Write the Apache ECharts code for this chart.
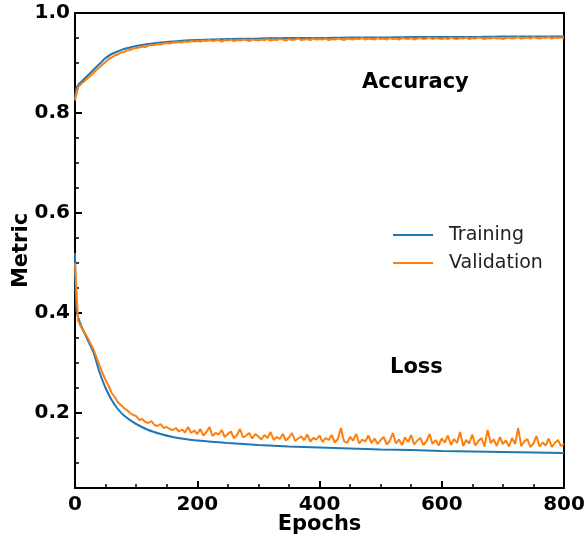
<!DOCTYPE html>
<html>
<head>
<meta charset="utf-8">
<script src="https://cdn.jsdelivr.net/npm/echarts@6/dist/echarts.min.js"></script>
<style>
  html, body { margin: 0; padding: 0; background: #fff; }
  #chart { width: 584px; height: 539px; }
</style>
</head>
<body>
<div id="chart"></div>
<script>
// training curves (smooth)
var trainEpochs = [0, 2, 5, 10, 20, 30, 40, 50, 60, 70, 80, 90, 100, 120, 140, 160, 180, 200,
  250, 300, 350, 400, 450, 500, 550, 600, 650, 700, 750, 800];
var trainAcc = [0.830, 0.848, 0.856, 0.862, 0.874, 0.886, 0.898, 0.910, 0.918, 0.923, 0.928, 0.931, 0.934,
  0.938, 0.941, 0.943, 0.945, 0.946, 0.948, 0.949, 0.950, 0.950, 0.951, 0.951, 0.952, 0.952, 0.952,
  0.953, 0.953, 0.953];
var trainLoss = [0.520, 0.410, 0.392, 0.375, 0.348, 0.322, 0.282, 0.250, 0.226, 0.208, 0.195, 0.186, 0.178,
  0.166, 0.158, 0.152, 0.148, 0.145, 0.140, 0.136, 0.133, 0.131, 0.129, 0.127, 0.126, 0.124, 0.123,
  0.122, 0.121, 0.120];

// validation curves, one value every 5 epochs
var valStep = 5;
var valAcc = [
  0.825, 0.852, 0.858, 0.863, 0.869, 0.874, 0.880, 0.886, 0.891, 0.897,
  0.902, 0.908, 0.911, 0.915, 0.917, 0.921, 0.922, 0.925, 0.926, 0.929,
  0.930, 0.931, 0.933, 0.932, 0.935, 0.936, 0.936, 0.938, 0.937, 0.939,
  0.940, 0.939, 0.941, 0.941, 0.942, 0.941, 0.943, 0.942, 0.944, 0.943, 0.944,
  0.943, 0.945, 0.944, 0.946, 0.944, 0.945, 0.946, 0.943, 0.946, 0.945, 0.947, 0.944, 0.946, 0.945, 0.947, 0.946, 0.944, 0.947, 0.946, 0.945,
  0.947, 0.946, 0.948, 0.945, 0.947, 0.946, 0.948, 0.947, 0.945, 0.948, 0.946, 0.947, 0.949, 0.946, 0.947, 0.948, 0.946, 0.949, 0.947, 0.948,
  0.947, 0.949, 0.946, 0.948, 0.947, 0.949, 0.948, 0.946, 0.949, 0.948, 0.947, 0.949, 0.948, 0.950, 0.947, 0.949, 0.948, 0.947, 0.950, 0.948,
  0.949, 0.947, 0.950, 0.948, 0.949, 0.947, 0.950, 0.949, 0.948, 0.950, 0.947, 0.949, 0.950, 0.948, 0.949, 0.951, 0.948, 0.950, 0.949, 0.948,
  0.950, 0.948, 0.951, 0.949, 0.948, 0.950, 0.949, 0.951, 0.948, 0.950, 0.949, 0.951, 0.950, 0.948, 0.950, 0.949, 0.951, 0.949, 0.950, 0.948,
  0.950, 0.951, 0.949, 0.950, 0.952, 0.949, 0.950, 0.951, 0.949, 0.952, 0.950, 0.949, 0.951, 0.950, 0.952, 0.949, 0.951, 0.950, 0.951, 0.950
];
var valLoss = [
  0.500, 0.385, 0.372, 0.362, 0.352, 0.340, 0.328, 0.312, 0.296, 0.280,
  0.266, 0.254, 0.240, 0.232, 0.222, 0.216, 0.210, 0.206, 0.200, 0.196,
  0.194, 0.186, 0.188, 0.182, 0.180, 0.184, 0.176, 0.174, 0.178, 0.170,
  0.172, 0.168, 0.166, 0.170, 0.163, 0.167, 0.161, 0.172, 0.160, 0.165, 0.158,
  0.168, 0.155, 0.162, 0.172, 0.154, 0.160, 0.157, 0.166, 0.152, 0.158, 0.163, 0.150, 0.156, 0.168, 0.151, 0.155, 0.160, 0.149, 0.158, 0.153,
  0.147, 0.156, 0.150, 0.162, 0.146, 0.152, 0.148, 0.158, 0.145, 0.151, 0.160, 0.144, 0.149, 0.153, 0.146, 0.157, 0.143, 0.150, 0.147, 0.155,
  0.142, 0.150, 0.146, 0.156, 0.141, 0.148, 0.170, 0.144, 0.140, 0.152, 0.145, 0.158, 0.139, 0.147, 0.143, 0.155, 0.140, 0.149, 0.138, 0.146,
  0.152, 0.137, 0.144, 0.160, 0.139, 0.147, 0.136, 0.151, 0.142, 0.156, 0.137, 0.145, 0.150, 0.136, 0.143, 0.158, 0.138, 0.146, 0.135, 0.149,
  0.141, 0.155, 0.136, 0.148, 0.140, 0.162, 0.134, 0.146, 0.139, 0.157, 0.135, 0.144, 0.150, 0.133, 0.166, 0.140, 0.147, 0.134, 0.152, 0.138,
  0.145, 0.133, 0.150, 0.138, 0.170, 0.134, 0.143, 0.148, 0.132, 0.139, 0.154, 0.133, 0.141, 0.135, 0.149, 0.132, 0.140, 0.146, 0.134, 0.138
];

var yMajor = [0.2, 0.4, 0.6, 0.8, 1.0];
var yMinor = [0.05, 0.1, 0.15, 0.25, 0.3, 0.35, 0.45, 0.5, 0.55, 0.65, 0.7, 0.75, 0.85, 0.9, 0.95];

function pairs(xs, ys) {
  var res = [];
  for (var i = 0; i < ys.length; i++) res.push([xs[i], ys[i]]);
  return res;
}
function valPairs(ys) {
  var res = [];
  for (var i = 0; i < ys.length; i++) res.push([i * valStep, ys[i]]);
  return res;
}

var blue = '#1f77b4';
var orange = '#ff7f0e';
var font = 'DejaVu Sans';

var chart = echarts.init(document.getElementById('chart'));

var option = {
  animation: false,
  backgroundColor: '#fff',
  grid: {
    left: 75, right: 20, top: 13, bottom: 51,
    outerBoundsMode: 'none', containLabel: false,
    show: true, borderColor: '#000', borderWidth: 2
  },
  legend: {
    orient: 'vertical',
    left: 388, top: 220,
    icon: 'rect', itemWidth: 40, itemHeight: 2, itemGap: 8,
    textStyle: { fontFamily: font, fontSize: 19, lineHeight: 20, color: '#222', padding: [0, 0, 0, 11] },
    data: ['Training', 'Validation']
  },
  xAxis: {
    type: 'value', min: 0, max: 800, interval: 200,
    name: 'Epochs', nameLocation: 'middle', nameGap: 26, nameMoveOverlap: false,
    nameTextStyle: { fontFamily: font, fontSize: 21, fontWeight: 'bold', color: '#000' },
    axisLine: { lineStyle: { color: '#000', width: 2 } },
    axisTick: { inside: true, length: 7, lineStyle: { color: '#000', width: 2 } },
    minorTick: { show: true, splitNumber: 4, length: 4, lineStyle: { color: '#000', width: 1.5 } },
    axisLabel: { fontFamily: font, fontSize: 20, fontWeight: 'bold', color: '#000', margin: 7 },
    splitLine: { show: false }
  },
  yAxis: [{
    type: 'value', min: 0.05, max: 1.0,
    name: 'Metric', nameLocation: 'middle', nameGap: 43, nameMoveOverlap: false,
    nameTextStyle: { fontFamily: font, fontSize: 21, fontWeight: 'bold', color: '#000' },
    axisLine: { lineStyle: { color: '#000', width: 2 } },
    axisTick: { inside: true, length: 7, customValues: yMajor, lineStyle: { color: '#000', width: 2 } },
    axisLabel: {
      customValues: yMajor, fontFamily: font, fontSize: 20, fontWeight: 'bold', color: '#000', margin: 5,
      formatter: function (v) { return v.toFixed(1); }
    },
    splitLine: { show: false }
  }, {
    type: 'value', min: 0.05, max: 1.0, position: 'left', offset: 0,
    axisLine: { show: false },
    axisTick: { inside: true, length: 4, customValues: yMinor, lineStyle: { color: '#000', width: 1.5 } },
    axisLabel: { show: false },
    splitLine: { show: false }
  }],
  graphic: [
    { type: 'text', left: 362, top: 72, style: { text: 'Accuracy', font: 'bold 21px "DejaVu Sans"', fill: '#000' } },
    { type: 'text', left: 390, top: 357, style: { text: 'Loss', font: 'bold 21px "DejaVu Sans"', fill: '#000' } }
  ],
  series: [
    { name: 'Training', type: 'line', symbol: 'none', data: pairs(trainEpochs, trainAcc), smooth: 0.3,
      lineStyle: { color: blue, width: 2 }, itemStyle: { color: blue }, z: 2 },
    { name: 'Training', type: 'line', symbol: 'none', data: pairs(trainEpochs, trainLoss), smooth: 0.3,
      lineStyle: { color: blue, width: 2 }, itemStyle: { color: blue }, z: 2 },
    { name: 'Validation', type: 'line', symbol: 'none', data: valPairs(valAcc),
      lineStyle: { color: orange, width: 2 }, itemStyle: { color: orange }, z: 3 },
    { name: 'Validation', type: 'line', symbol: 'none', data: valPairs(valLoss),
      lineStyle: { color: orange, width: 2 }, itemStyle: { color: orange }, z: 3 }
  ]
};

chart.setOption(option);
</script>
</body>
</html>
